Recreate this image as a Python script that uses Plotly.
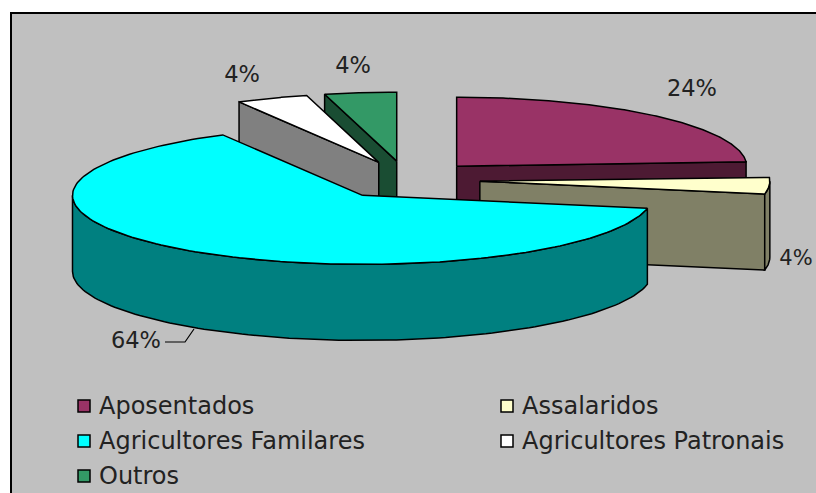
import numpy as np
import plotly.graph_objects as go

categories = ["Aposentados", "Assalaridos", "Agricultores Familares", "Agricultores Patronais", "Outros"]
shares = [24, 4, 64, 4, 4]
labels = ["24%", "4%", "64%", "4%", "4%"]
colors = ["#993366", "#FFFFCC", "#00FFFF", "#FFFFFF", "#339966"]
side_colors = ["#4D1A33", "#808066", "#008080", "#808080", "#1A4D33"]
draw_order = [4, 3, 0, 1, 2]

CX, CY, RX, RY, DEPTH = 406, 180, 290, 69, 76
PULL_X, PULL_Y = 74, 19
LINE = dict(color="#000000", width=1.5)
FONT = "DejaVu Sans, sans-serif"
TEXT_COLOR = "#222222"

label_pos = [(692, 90), (796, 260), (136, 342), (242, 76), (353, 67)]
label_sizes = [22.5, 21, 22.5, 22.5, 22.5]
legend_pos = [(84, 406), (507, 406), (84, 441), (507, 441), (84, 476)]

fig = go.Figure()


def poly(xs, ys, fill, name):
    fig.add_trace(go.Scatter(x=xs, y=ys, mode="lines", fill="toself", fillcolor=fill,
                             line=LINE, hoverinfo="skip", showlegend=False, name=name))


edges = np.cumsum([0] + shares) / sum(shares) * 2 * np.pi
for i in draw_order:
    a0, a1 = edges[i], edges[i + 1]
    mid = (a0 + a1) / 2
    ox = CX + PULL_X * np.sin(mid)
    oy = CY - PULL_Y * np.cos(mid)
    rim_x = lambda t: ox + RX * np.sin(t)
    rim_y = lambda t: oy - RY * np.cos(t)
    # radial faces, only those turned towards the viewer
    visible = []
    if np.sin(a0) < -1e-6:
        visible.append(a0)
    if np.sin(a1) > 1e-6:
        visible.append(a1)
    for a in visible:
        px, py = rim_x(a), rim_y(a)
        poly([ox, px, px, ox, ox], [oy, py, py + DEPTH, oy + DEPTH, oy], side_colors[i], categories[i])
    # outer wall (front half of the rim only)
    w0, w1 = max(a0, np.pi / 2), min(a1, 3 * np.pi / 2)
    if w1 > w0:
        t = np.linspace(w0, w1, 120)
        xs = np.concatenate([rim_x(t), rim_x(t[::-1]), rim_x(t[:1])])
        ys = np.concatenate([rim_y(t), rim_y(t[::-1]) + DEPTH, rim_y(t[:1])])
        poly(xs, ys, side_colors[i], categories[i])
    # top surface
    t = np.linspace(a0, a1, 160)
    poly(np.concatenate([[ox], rim_x(t), [ox]]), np.concatenate([[oy], rim_y(t), [oy]]), colors[i], categories[i])

# data labels
fig.add_trace(go.Scatter(x=[p[0] for p in label_pos], y=[p[1] for p in label_pos], mode="text",
                         text=labels, textfont=dict(family=FONT, size=label_sizes, color=TEXT_COLOR),
                         textposition="middle center", hoverinfo="skip", showlegend=False))
# leader line of the 64% label
fig.add_trace(go.Scatter(x=[165, 185, 194], y=[342, 342, 329], mode="lines",
                         line=dict(color="#000000", width=1.2), hoverinfo="skip", showlegend=False))
# legend
fig.add_trace(go.Scatter(x=[p[0] for p in legend_pos], y=[p[1] for p in legend_pos], mode="markers",
                         marker=dict(symbol="square", size=12, color=colors, line=dict(color="#000000", width=1.5)),
                         hoverinfo="skip", showlegend=False))
fig.add_trace(go.Scatter(x=[p[0] + 15 for p in legend_pos], y=[p[1] + 2 for p in legend_pos], mode="text",
                         text=categories, textfont=dict(family=FONT, size=24, color=TEXT_COLOR),
                         textposition="middle right", hoverinfo="skip", showlegend=False))

fig.update_layout(
    width=816, height=493, margin=dict(l=0, r=0, t=0, b=0),
    paper_bgcolor="#FFFFFF", plot_bgcolor="#FFFFFF", showlegend=False,
    xaxis=dict(range=[0, 816], visible=False, fixedrange=True),
    yaxis=dict(range=[493, 0], visible=False, fixedrange=True),
    shapes=[dict(type="rect", x0=11, y0=13, x1=830, y1=510, layer="below",
                 fillcolor="#C0C0C0", line=dict(color="#000000", width=2))],
)
fig.write_html("out.html", config={"displayModeBar": False},
               post_script="document.body.style.margin='0';")
